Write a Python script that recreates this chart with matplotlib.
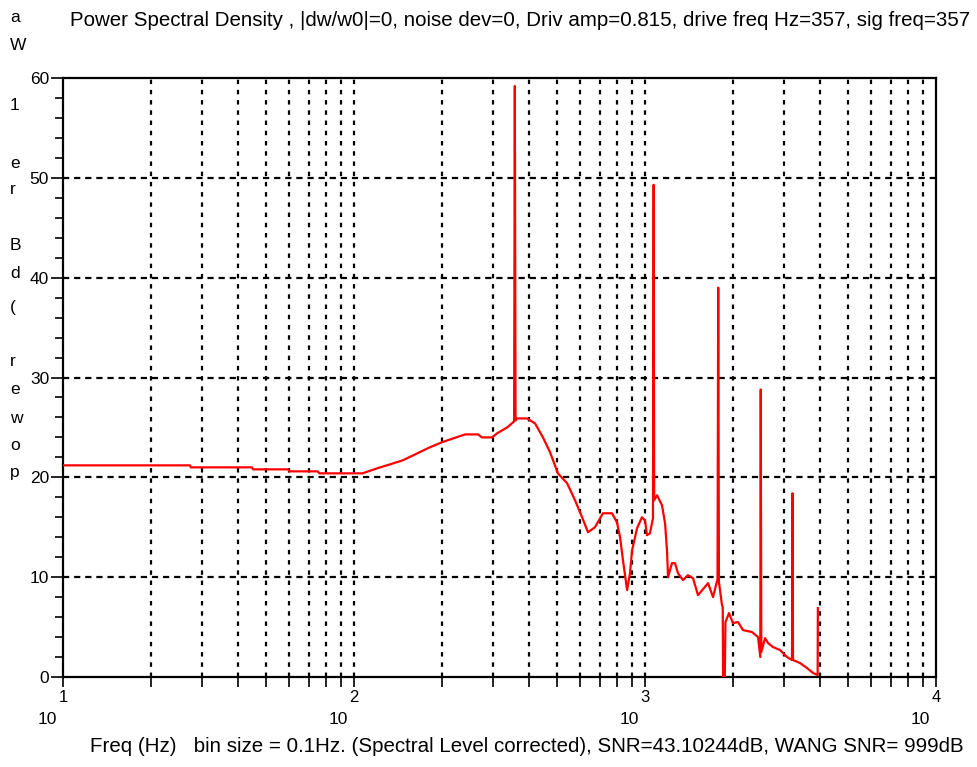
import numpy as np
import matplotlib
matplotlib.use("Agg")
import matplotlib.pyplot as plt
from matplotlib.ticker import FixedLocator, NullFormatter

# ---- data ----
freq_hz = [10, 27.3, 27.5, 44.6, 45, 59.3, 60, 75, 76, 107, 120, 133, 147, 165, 182,
           200, 219, 241, 267, 275, 298, 310, 336, 355, 357, 359, 363, 393, 419, 446,
           472, 502, 540, 575, 608, 637, 673, 717, 770, 801, 821, 840, 868, 888, 903,
           939, 976, 1000, 1016, 1040, 1065, 1071, 1075, 1100, 1144, 1172, 1190, 1200,
           1238, 1268, 1298, 1351, 1405, 1462, 1521, 1583, 1647, 1713, 1775, 1785, 1795,
           1839, 1850, 1855, 1880, 1890, 1944, 2006, 2087, 2172, 2332, 2446, 2490, 2499,
           2510, 2585, 2647, 2754, 2911, 3076, 3200, 3213, 3226, 3409, 3603, 3778, 3920,
           3927]
power_db = [21.2, 21.2, 21.0, 21.0, 20.8, 20.8, 20.6, 20.6, 20.4, 20.4, 20.9, 21.3, 21.7,
            22.4, 23.0, 23.5, 23.9, 24.3, 24.3, 24.0, 24.0, 24.4, 25.0, 25.6, 59.2, 25.7,
            25.9, 25.9, 25.4, 24.0, 22.5, 20.4, 19.4, 17.7, 16.0, 14.5, 15.0, 16.4, 16.4,
            15.5, 14.0, 11.7, 8.7, 10.4, 12.7, 14.9, 16.0, 15.7, 14.2, 14.4, 15.9, 49.3,
            17.7, 18.2, 17.2, 15.4, 12.7, 10.0, 11.4, 11.4, 10.4, 9.7, 10.2, 9.9, 8.2, 8.8,
            9.4, 8.0, 9.8, 39.0, 9.5, 7.2, 7.0, 0.0, 0.0, 5.5, 6.4, 5.4, 5.5, 4.7, 4.5, 4.0,
            2.0, 28.8, 2.5, 3.9, 3.4, 3.0, 2.7, 2.0, 1.7, 18.4, 1.7, 1.4, 0.9, 0.4, 0.2, 6.9]

title_text = ("Power Spectral Density , |dw/w0|=0, noise dev=0, Driv amp=0.815, "
              "drive freq Hz=357, sig freq=357")
xlabel_text = ("Freq (Hz)   bin size = 0.1Hz. (Spectral Level corrected), "
               "SNR=43.10244dB, WANG SNR= 999dB")
ylabel_letters = ["a", "W", "1", "e", "r", "B", "d", "(", "r", "e", "w", "o", "p"]
ylabel_ypix = [17, 46, 106, 164, 189, 246, 274, 308, 362, 390, 418, 445, 472]
y_ticks = [0, 10, 20, 30, 40, 50, 60]
x_exponents = ["1", "2", "3", "4"]

W, H = 978, 767
plt.rcParams['font.family'] = ['Liberation Sans', 'DejaVu Sans']
fig = plt.figure(figsize=(W / 100, H / 100), dpi=100)
L, R, T, B = 63, 936, 78, 677
ax = fig.add_axes([L / W, 1 - B / H, (R - L) / W, (B - T) / H])

ax.plot(freq_hz, power_db, color="#ff0000", lw=1.6, zorder=3)
ax.set_xscale("log")
ax.set_xlim(10, 10000)
ax.set_ylim(0, 60)

minor_x = [m * 10 ** k for k in (1, 2, 3) for m in range(1, 10)][1:]
ax.xaxis.set_major_locator(FixedLocator([10, 100, 1000, 10000]))
ax.xaxis.set_minor_locator(FixedLocator(minor_x))
ax.xaxis.set_major_formatter(NullFormatter())
ax.xaxis.set_minor_formatter(NullFormatter())
ax.set_yticks(y_ticks)
ax.set_yticks(np.arange(0, 61, 2), minor=True)
ax.set_yticklabels([str(v) for v in y_ticks], fontsize=12.5)
ax.tick_params(axis="y", which="major", length=9, width=1.2, direction="out", pad=1)
ax.tick_params(axis="y", which="minor", length=6, width=1.2, direction="out")
ax.tick_params(axis="x", which="both", length=7, width=1.2, direction="out")

for f in minor_x:
    ax.axvline(f, color="black", lw=1.6, ls=(0, (2.0, 2.6)), zorder=1)
for v in y_ticks[1:-1]:
    ax.axhline(v, color="black", lw=1.6, ls=(0, (2.8, 2.2)), zorder=1)

for s in ["top", "right", "left", "bottom"]:
    ax.spines[s].set_linewidth(1.6)

# x tick labels: exponent above "10"
for i, e in enumerate(x_exponents):
    fx = (L + i * (R - L) / 3) / W
    fig.text(fx, 1 - 697 / H, e, ha="center", va="center", fontsize=12)
    fig.text(fx - 16 / W, 1 - 720 / H, "10", ha="center", va="center", fontsize=12.5)

fig.text(70 / W, 1 - 20 / H, title_text, ha="left", va="center", fontsize=14.75)
fig.text(90 / W, 1 - 746 / H, xlabel_text, ha="left", va="center", fontsize=14.75)
for ch, yp in zip(ylabel_letters, ylabel_ypix):
    fig.text(10 / W, 1 - yp / H, ch, ha="left", va="center", fontsize=12.5)

fig.savefig("out.png", dpi=100)
